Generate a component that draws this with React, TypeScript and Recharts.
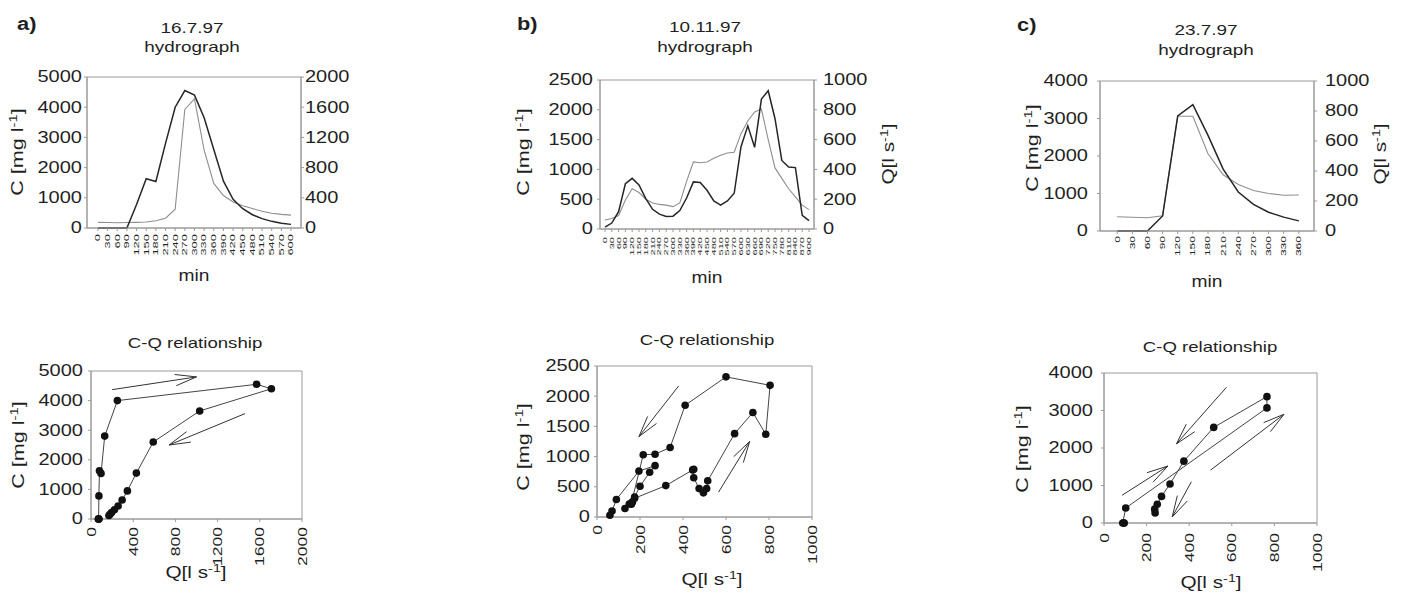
import React from 'react';
import {
  LineChart, Line, ScatterChart, Scatter, XAxis, YAxis, ReferenceArea, ReferenceLine,
} from 'recharts';

const FONT = '"Liberation Sans", Arial, Helvetica, sans-serif';
const INK = '#1f1f1f';
const DARK = '#262626';
const GREY = '#8e8e8e';
const FRAME = '#9a9a9a';
const WIDE = 1.25; // the original lettering is set wide

// a) 16.7.97
const minutesA = [0, 30, 60, 90, 120, 150, 180, 210, 240, 270, 300, 330, 360, 390, 420, 450, 480, 510, 540, 570, 600];
const concA = [0, 0, 0, 0, 780, 1630, 1540, 2800, 4000, 4550, 4400, 3650, 2600, 1550, 950, 640, 440, 310, 220, 160, 120];
const flowA = [75, 72, 70, 72, 75, 80, 95, 130, 250, 1570, 1710, 1030, 590, 430, 345, 295, 257, 222, 195, 180, 170];

// b) 10.11.97
const minutesB = [0, 30, 60, 90, 120, 150, 180, 210, 240, 270, 300, 330, 360, 390, 420, 450, 480, 510, 540, 570, 600, 630, 660, 690, 720, 750, 780, 810, 840, 870, 900];
const concB = [30, 100, 290, 760, 850, 740, 510, 330, 250, 210, 215, 310, 520, 790, 780, 650, 470, 400, 470, 600, 1380, 1730, 1370, 2180, 2320, 1850, 1150, 1040, 1030, 230, 140];
const flowB = [60, 70, 90, 195, 270, 245, 200, 175, 165, 160, 150, 175, 320, 450, 445, 450, 475, 495, 510, 515, 640, 725, 785, 805, 600, 410, 340, 270, 215, 160, 130];

// c) 23.7.97
const minutesC = [0, 30, 60, 90, 120, 150, 180, 210, 240, 270, 300, 330, 360];
const concC = [0, 0, 0, 400, 3070, 3370, 2550, 1650, 1040, 710, 500, 370, 270];
const flowC = [95, 92, 88, 102, 765, 765, 515, 375, 310, 270, 250, 238, 240];

// axis ticks
const concTicksA = [0, 1000, 2000, 3000, 4000, 5000];
const flowTicksA = [0, 400, 800, 1200, 1600, 2000];
const concTicksB = [0, 500, 1000, 1500, 2000, 2500];
const flowTicksB = [0, 200, 400, 600, 800, 1000];
const concTicksC = [0, 1000, 2000, 3000, 4000];
const flowTicksC = [0, 200, 400, 600, 800, 1000];

// hysteresis arrows, in data units (Q, C)
const arrowsA = [
  { q1: 200, c1: 4370, q2: 1000, c2: 4800 },
  { q1: 1460, c1: 3560, q2: 740, c2: 2500 },
];
const arrowsB = [
  { q1: 380, c1: 2170, q2: 195, c2: 1330 },
  { q1: 565, c1: 410, q2: 710, c2: 1250 },
];
const arrowsC = [
  { q1: 575, c1: 3620, q2: 340, c2: 2110 },
  { q1: 85, c1: 740, q2: 300, c2: 1520 },
  { q1: 500, c1: 1410, q2: 845, c2: 2900 },
  { q1: 410, c1: 1100, q2: 320, c2: 160 },
];

const rows = (t: number[], c: number[], q: number[]) => t.map((m, i) => ({ t: m, c: c[i], q: q[i] }));

type Box = { left: number; top: number; width: number; height: number };

function SideTick(props: any) {
  const { x, y, payload, side, shift } = props;
  return (
    <text
      transform={`translate(${x + shift},${y}) scale(${WIDE},1)`}
      textAnchor={side === 'left' ? 'end' : 'start'}
      dominantBaseline="central"
      fontSize={16}
      fill={INK}
      fontFamily={FONT}
    >
      {payload.value}
    </text>
  );
}

function RotTick(props: any) {
  const { x, y, payload, size, k, gap } = props;
  return (
    <text
      transform={`translate(${x},${y + gap}) rotate(-90) scale(${k},1)`}
      textAnchor="end"
      dominantBaseline="central"
      fontSize={size}
      fill={INK}
      fontFamily={FONT}
    >
      {payload.value}
    </text>
  );
}

function Arrow(props: any) {
  const { x1, y1, x2, y2 } = props;
  const ang = Math.atan2(y2 - y1, x2 - x1);
  const len = 22;
  const spread = 0.26;
  const ax = x2 - len * Math.cos(ang - spread);
  const ay = y2 - len * Math.sin(ang - spread);
  const bx = x2 - len * Math.cos(ang + spread);
  const by = y2 - len * Math.sin(ang + spread);
  return (
    <g stroke="#333" strokeWidth={1} fill="none">
      <line x1={x1} y1={y1} x2={x2} y2={y2} />
      <line x1={ax} y1={ay} x2={x2} y2={y2} />
      <line x1={bx} y1={by} x2={x2} y2={y2} />
    </g>
  );
}

function Dot(props: any) {
  return <circle cx={props.cx} cy={props.cy} r={3.8} fill="#111" />;
}

interface HydroProps {
  box: Box;
  minutes: number[];
  conc: number[];
  flow: number[];
  tDomain: [number, number];
  cTicks: number[];
  qTicks: number[];
  tickSize: number;
  tickGap: number;
  leftShift: number;
  rightShift: number;
}

function Hydrograph({ box, minutes, conc, flow, tDomain, cTicks, qTicks, tickSize, tickGap, leftShift, rightShift }: HydroProps) {
  const L = 70, R = 70, T = 14, B = 45;
  const cMax = cTicks[cTicks.length - 1];
  const qMax = qTicks[qTicks.length - 1];
  return (
    <div style={{ position: 'absolute', left: box.left - L, top: box.top - T }}>
      <LineChart
        width={box.width + L + R}
        height={box.height + T + B}
        data={rows(minutes, conc, flow)}
        margin={{ top: T, right: 0, bottom: 0, left: 0 }}
      >
        <XAxis
          type="number"
          dataKey="t"
          domain={tDomain}
          ticks={minutes}
          interval={0}
          height={B}
          tickSize={3}
          axisLine={{ stroke: FRAME }}
          tickLine={{ stroke: FRAME }}
          tick={(p: any) => <RotTick {...p} size={tickSize} k={1.85} gap={tickGap} />}
        />
        <YAxis
          yAxisId="c"
          orientation="left"
          width={L}
          domain={[0, cMax]}
          ticks={cTicks}
          interval={0}
          tickSize={3}
          axisLine={{ stroke: FRAME }}
          tickLine={{ stroke: FRAME }}
          tick={(p: any) => <SideTick {...p} side="left" shift={leftShift} />}
        />
        <YAxis
          yAxisId="q"
          orientation="right"
          width={R}
          domain={[0, qMax]}
          ticks={qTicks}
          interval={0}
          tickSize={3}
          axisLine={{ stroke: FRAME }}
          tickLine={{ stroke: FRAME }}
          tick={(p: any) => <SideTick {...p} side="right" shift={rightShift} />}
        />
        <ReferenceArea
          yAxisId="c"
          x1={tDomain[0]}
          x2={tDomain[1]}
          y1={0}
          y2={cMax}
          fill="none"
          fillOpacity={0}
          stroke={FRAME}
          strokeWidth={1}
        />
        <Line yAxisId="q" type="linear" dataKey="q" stroke={GREY} strokeWidth={1.1} dot={false} isAnimationActive={false} />
        <Line yAxisId="c" type="linear" dataKey="c" stroke={DARK} strokeWidth={1.5} dot={false} isAnimationActive={false} />
      </LineChart>
    </div>
  );
}

interface RelProps {
  box: Box;
  conc: number[];
  flow: number[];
  qTicks: number[];
  cTicks: number[];
  arrows: { q1: number; c1: number; q2: number; c2: number }[];
  tickGap: number;
  leftShift: number;
}

function Relationship({ box, conc, flow, qTicks, cTicks, arrows, tickGap, leftShift }: RelProps) {
  const L = 80, R = 10, T = 14, B = 50;
  const qMax = qTicks[qTicks.length - 1];
  const cMax = cTicks[cTicks.length - 1];
  const points = flow.map((q, i) => ({ q, c: conc[i] }));
  return (
    <div style={{ position: 'absolute', left: box.left - L, top: box.top - T }}>
      <ScatterChart
        width={box.width + L + R}
        height={box.height + T + B}
        margin={{ top: T, right: R, bottom: 0, left: 0 }}
      >
        <XAxis
          type="number"
          dataKey="q"
          domain={[0, qMax]}
          ticks={qTicks}
          interval={0}
          height={B}
          tickSize={3}
          axisLine={{ stroke: FRAME }}
          tickLine={{ stroke: FRAME }}
          tick={(p: any) => <RotTick {...p} size={13} k={1.35} gap={tickGap} />}
        />
        <YAxis
          type="number"
          dataKey="c"
          width={L}
          domain={[0, cMax]}
          ticks={cTicks}
          interval={0}
          tickSize={3}
          axisLine={{ stroke: FRAME }}
          tickLine={{ stroke: FRAME }}
          tick={(p: any) => <SideTick {...p} side="left" shift={leftShift} />}
        />
        <ReferenceArea x1={0} x2={qMax} y1={0} y2={cMax} fill="none" fillOpacity={0} stroke={FRAME} strokeWidth={1} />
        <Scatter
          data={points}
          line={{ stroke: '#444', strokeWidth: 1 }}
          shape={Dot}
          isAnimationActive={false}
        />
        {arrows.map((a, i) => (
          <ReferenceLine
            key={i}
            segment={[{ x: a.q1, y: a.c1 }, { x: a.q2, y: a.c2 }]}
            shape={Arrow}
          />
        ))}
      </ScatterChart>
    </div>
  );
}

function Label({ x, y, size = 16, k = WIDE, rotate = false, anchor = 'middle', weight = 'normal', children }: any) {
  const tf = `translate(${x},${y})${rotate ? ' rotate(-90)' : ''} scale(${k},1)`;
  return (
    <text transform={tf} textAnchor={anchor} fontSize={size} fontWeight={weight} fill={INK} fontFamily={FONT}>
      {children}
    </text>
  );
}

const Conc = () => (
  <>
    C [mg l<tspan dy={-6} fontSize={11}>-1</tspan><tspan dy={6}>]</tspan>
  </>
);
const Flow = () => (
  <>
    Q[l s<tspan dy={-6} fontSize={11}>-1</tspan><tspan dy={6}>]</tspan>
  </>
);

export default function App() {
  return (
    <div style={{ position: 'absolute', left: 0, top: 0, width: 1408, height: 597, background: '#fff', overflow: 'hidden' }}>
      <Hydrograph
        box={{ left: 87, top: 77, width: 214, height: 151 }}
        minutes={minutesA} conc={concA} flow={flowA}
        tDomain={[-34, 631]} cTicks={concTicksA} qTicks={flowTicksA}
        tickSize={7} tickGap={1} leftShift={0} rightShift={-1}
      />
      <Hydrograph
        box={{ left: 600, top: 80, width: 214, height: 149 }}
        minutes={minutesB} conc={concB} flow={flowB}
        tDomain={[-22, 922]} cTicks={concTicksB} qTicks={flowTicksB}
        tickSize={6} tickGap={3} leftShift={-2} rightShift={4}
      />
      <Hydrograph
        box={{ left: 1100, top: 81, width: 214, height: 150 }}
        minutes={minutesC} conc={concC} flow={flowC}
        tDomain={[-34, 390]} cTicks={concTicksC} qTicks={flowTicksC}
        tickSize={6.5} tickGap={0} leftShift={-7} rightShift={6}
      />
      <Relationship
        box={{ left: 91, top: 371, width: 211, height: 148 }}
        conc={concA} flow={flowA} qTicks={[0, 400, 800, 1200, 1600, 2000]} cTicks={concTicksA}
        arrows={arrowsA} tickGap={3} leftShift={-3}
      />
      <Relationship
        box={{ left: 597, top: 366, width: 215, height: 151 }}
        conc={concB} flow={flowB} qTicks={[0, 200, 400, 600, 800, 1000]} cTicks={concTicksB}
        arrows={arrowsB} tickGap={3} leftShift={-2}
      />
      <Relationship
        box={{ left: 1104, top: 373, width: 213, height: 150 }}
        conc={concC} flow={flowC} qTicks={[0, 200, 400, 600, 800, 1000]} cTicks={concTicksC}
        arrows={arrowsC} tickGap={5} leftShift={-6}
      />
      <svg width={1408} height={597} style={{ position: 'absolute', left: 0, top: 0, pointerEvents: 'none' }}>
        <Label x={17} y={30} size={19} weight="bold" anchor="start" k={1.15}>a)</Label>
        <Label x={517} y={30} size={19} weight="bold" anchor="start" k={1.15}>b)</Label>
        <Label x={1017} y={31} size={19} weight="bold" anchor="start" k={1.15}>c)</Label>

        <Label x={192} y={33} size={14} k={1.35}>16.7.97</Label>
        <Label x={192} y={52} size={14} k={1.35}>hydrograph</Label>
        <Label x={705} y={32} size={14} k={1.35}>10.11.97</Label>
        <Label x={705} y={52} size={14} k={1.35}>hydrograph</Label>
        <Label x={1206} y={35} size={14} k={1.35}>23.7.97</Label>
        <Label x={1206} y={55} size={14} k={1.35}>hydrograph</Label>

        <Label x={194} y={281} size={16} k={1.2}>min</Label>
        <Label x={707} y={283} size={16} k={1.2}>min</Label>
        <Label x={1207} y={287} size={16} k={1.2}>min</Label>

        <Label x={23} y={152} rotate k={1.35}><Conc /></Label>
        <Label x={529} y={152} rotate k={1.35}><Conc /></Label>
        <Label x={1038} y={148} rotate k={1.35}><Conc /></Label>
        <Label x={894} y={154} rotate k={1.3}><Flow /></Label>
        <Label x={1386} y={154} rotate k={1.3}><Flow /></Label>

        <Label x={195} y={348} size={14} k={1.33}>C-Q relationship</Label>
        <Label x={707} y={345} size={14} k={1.33}>C-Q relationship</Label>
        <Label x={1210} y={352} size={14} k={1.33}>C-Q relationship</Label>

        <Label x={24} y={445} rotate k={1.35}><Conc /></Label>
        <Label x={529} y={447} rotate k={1.35}><Conc /></Label>
        <Label x={1028} y={449} rotate k={1.35}><Conc /></Label>

        <Label x={196} y={578} k={1.3}><Flow /></Label>
        <Label x={712} y={585} k={1.3}><Flow /></Label>
        <Label x={1211} y={588} k={1.3}><Flow /></Label>
      </svg>
    </div>
  );
}
